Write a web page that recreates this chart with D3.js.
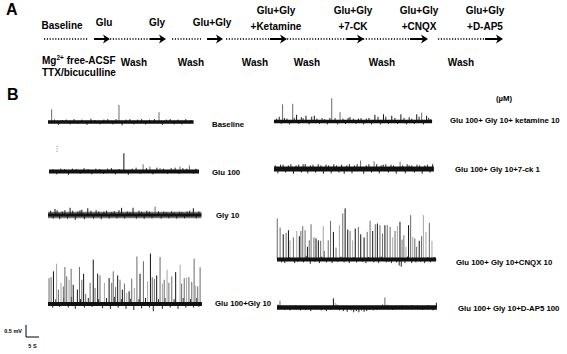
<!DOCTYPE html>
<html>
<head>
<meta charset="utf-8">
<script src="https://cdn.jsdelivr.net/npm/d3@7"></script>
<style>
  body { margin: 0; background: #fff; }
  svg { display: block; font-family: "Liberation Sans", Arial, sans-serif; font-weight: bold; }
</style>
</head>
<body>
<div id="container"></div>
<script>
// ---------- DATA: PROTOCOL (panel A) ----------
const stepTop = ['', '', '', '', 'Glu+Gly', 'Glu+Gly', 'Glu+Gly', 'Glu+Gly'];
const stepBottom = ['Baseline', 'Glu', 'Gly', 'Glu+Gly', '+Ketamine', '+7-CK', '+CNQX', '+D-AP5'];
const washLabels = ['Wash', 'Wash', 'Wash', 'Wash', 'Wash', 'Wash'];

// ---------- DATA: RECORDINGS (panel B) ----------
const traceNames = [
    'Baseline', 'Glu 100', 'Gly 10', 'Glu 100+Gly 10',
    'Glu 100+ Gly 10+ ketamine 10', 'Glu 100+ Gly 10+7-ck 1',
    'Glu 100+ Gly 10+CNQX 10', 'Glu 100+ Gly 10+D-AP5 100'
];
const traceDuration = [56, 57.7, 59, 59.2, 60.8, 61.5, 61.2, 61.5]; // s

// events: [time s, amplitude mV, shade 0 black / 1 grey / 2 light]
const baselineSpikes = [[1.4, 0.53, 1], [27.3, 0.71, 1], [42.7, 0.41, 1]];
const gluSpikes = [[28.8, 0.76, 0], [36.2, 0.3, 1], [38.8, 0.2, 1], [42.7, 0.15, 1], [50.4, 0.2, 1], [54, 0.25, 1]];
const glySpikes = [[2.7, 0.25, 0], [8.5, 0.3, 0], [13, 0.22, 0], [15.3, 0.28, 0], [28.3, 0.3, 0], [32.7, 0.3, 0], [41.2, 0.35, 1], [55.9, 0.28, 0]];
const gluGlySpikes = [
    [0.4, 1.08, 1], [1.2, 1.12, 1], [2.1, 1.36, 0], [3.3, 1.68, 2], [4.0, 0.60, 1], [5.0, 0.88, 2], [5.9, 0.73, 1],
    [6.5, 1.54, 1], [7.2, 1.15, 1], [8.1, 1.01, 2], [8.9, 1.47, 1], [9.7, 0.80, 0], [11.3, 0.60, 0], [12.1, 1.54, 1],
    [13.0, 1.01, 1], [13.7, 1.26, 0], [14.5, 0.42, 1], [16.2, 0.88, 1], [17.4, 1.85, 0], [18.1, 0.67, 1], [19.1, 1.26, 0],
    [20.0, 1.19, 1], [21.7, 0.88, 2], [23.5, 1.08, 0], [24.5, 0.88, 1], [25.1, 1.36, 1], [26.0, 0.71, 1], [26.8, 1.19, 0],
    [27.7, 1.01, 1], [28.6, 0.60, 0], [29.4, 0.85, 1], [30.3, 0.46, 2], [31.2, 0.53, 0], [32.2, 1.05, 1], [33.2, 0.67, 2],
    [34.2, 1.98, 1], [35.4, 1.26, 0], [36.7, 1.78, 1], [38.3, 0.94, 2], [39.4, 2.10, 0], [40.1, 1.12, 1], [40.9, 1.05, 1],
    [41.8, 1.19, 0], [43.1, 1.96, 1], [44.0, 0.85, 2], [44.7, 1.01, 1], [45.8, 1.43, 2], [46.5, 0.88, 1], [47.6, 1.15, 1],
    [49.1, 1.33, 0], [50.8, 1.64, 2], [51.4, 0.85, 1], [52.4, 1.08, 1], [53.3, 1.10, 2], [54.2, 1.12, 1], [55.3, 0.92, 1],
    [56.2, 1.89, 1], [56.8, 0.77, 2], [57.6, 0.73, 1], [58.5, 1.53, 1]
];
const ketSpikes = [
    [3.3, 0.72, 1], [7.2, 0.74, 1], [8.7, 0.28, 0], [12.3, 0.24, 0], [15.5, 0.24, 0], [22.2, 0.97, 1], [25.4, 0.39, 1],
    [29.2, 0.18, 0], [38.8, 0.28, 0], [42.1, 0.3, 0], [45.3, 0.24, 0], [48.8, 0.3, 0], [54.9, 0.3, 0], [56.8, 0.37, 1], [58.7, 0.24, 0]
];
const ckSpikes = [[3.5, 0.18, 0], [12, 0.2, 0], [20, 0.18, 0], [33.3, 0.35, 1], [38.5, 0.32, 1], [42, 0.18, 0], [48.5, 0.3, 1], [52, 0.15, 0]];
const cnqxSpikes = [
    [0.1, 1.71, 1], [1.2, 1.33, 1], [2.4, 1.05, 0], [3.5, 1.11, 1], [4.4, 1.22, 0], [5.0, 0.80, 2], [6.3, 0.92, 1],
    [7.6, 1.19, 2], [8.6, 0.97, 0], [9.2, 1.19, 1], [9.9, 1.39, 1], [10.8, 1.22, 1], [11.7, 0.53, 0], [12.4, 0.80, 1],
    [13.1, 1.47, 1], [14.2, 0.92, 1], [15.0, 0.88, 0], [15.9, 0.80, 0], [16.8, 0.78, 1], [17.8, 1.39, 2], [18.2, 0.36, 1],
    [19.7, 0.80, 1], [20.6, 1.61, 1], [21.7, 1.15, 0], [22.7, 0.50, 1], [24.0, 1.43, 2], [25.3, 1.92, 1], [26.2, 2.13, 0],
    [27.2, 1.25, 0], [28.1, 1.19, 1], [29.1, 0.80, 2], [30.1, 1.29, 0], [31.3, 1.36, 1], [32.2, 1.05, 0], [33.5, 0.92, 0],
    [34.7, 1.15, 1], [35.8, 1.61, 1], [36.8, 1.19, 0], [37.8, 1.47, 1], [38.6, 1.50, 0], [39.6, 1.43, 1], [40.6, 1.08, 1],
    [41.5, 1.43, 0], [42.4, 1.43, 1], [43.5, 1.36, 1], [44.5, 0.92, 2], [45.4, 1.19, 1], [46.3, 1.39, 2], [47.3, 1.57, 0],
    [48.1, 0.83, 1], [48.8, 1.01, 1], [49.6, 0.53, 2], [50.6, 1.43, 0], [51.4, 1.85, 1], [52.2, 0.94, 2], [53.0, 0.88, 1],
    [53.7, 0.53, 1], [54.7, 0.78, 0], [55.6, 0.97, 1], [56.3, 1.85, 2], [57.3, 1.15, 2], [58.6, 1.53, 1], [59.6, 0.78, 2]
];
const dapSpikes = [[1.15, 0.28, 1], [21.7, 0.38, 0], [22.4, 0.2, 2], [23, 0.14, 2], [23.6, 0.1, 2], [40.6, 0.15, 2], [41.5, 0.42, 1], [42.3, 0.12, 2], [43, 0.08, 2]];

// small noise deflections: [time s, amplitude mV]
const baselineNoise = [[2.5, .1], [4, -.12], [5.5, .08], [7, .1], [8.5, -.1], [10, .12], [11.5, -.08], [13, .1], [15, -.12], [16.5, .14], [18, .08], [20, -.1], [21.5, .1], [23, .12], [25, -.1], [26.2, .12], [28.5, -.14], [30, .1], [31.5, .12], [33, -.1], [34.5, .1], [36, .12], [37.5, -.1], [39, .1], [41, .12], [44, -.12], [45.5, .1], [47, .12], [48.5, -.1], [50, .1], [51.5, -.1], [53, .12], [55, .08]];
const gluNoise = [[1.5, .1], [3, -.12], [4.5, .12], [6, .1], [7.5, -.14], [9, .12], [10.5, .1], [12, -.1], [13.5, .14], [15, .1], [16.5, -.12], [18, .12], [19.5, .1], [21, -.1], [22.5, .12], [24, .14], [25.5, -.12], [27, .1], [30.5, -.14], [32, .12], [33.5, .16], [35, -.1], [37.5, .14], [40, -.12], [41.5, .16], [44, .12], [45.5, -.1], [47, .14], [48.5, .16], [50, -.1], [51.5, .14], [53, .12], [55.5, -.1], [56.5, .12]];
const glyNoise = [[1, .18], [2, -.15], [3.5, .2], [4.5, -.18], [5.5, .15], [6.5, .2], [7.5, -.15], [9.5, .18], [10.5, -.2], [11.5, .15], [12.3, .2], [14, -.18], [16.5, .18], [17.5, -.15], [18.5, .2], [19.5, .15], [20.5, -.18], [21.5, .14], [22.5, .18], [23.5, -.15], [24.5, .12], [25.5, .16], [26.5, -.14], [27.3, .2], [29.5, -.15], [30.5, .15], [31.5, .12], [34, -.15], [35, .18], [36, .14], [37, -.16], [38, .18], [39, .15], [40, -.14], [42.5, .15], [43.5, -.15], [44.5, .14], [45.5, .12], [46.5, -.14], [47.5, .15], [48.5, .12], [49.5, -.15], [50.5, .14], [51.5, .12], [52.5, -.14], [53.5, .15], [54.5, .18], [57, -.14], [58, .15]];
const gluGlyNoise = [[1.8, -.15], [3, .2], [4.5, -.12], [6, .25], [7.8, -.15], [9, .3], [10.5, -.2], [12.5, .2], [14, -.15], [15.5, .25], [17, -.12], [19.5, .2], [21, -.18], [22.5, .25], [24, -.2], [25.5, .3], [27, -.15], [28.2, .2], [30, -.2], [31.8, .22], [33, -.25], [35, .2], [36, -.18], [37.5, .25], [39, -.15], [40.5, -.3], [42.5, .2], [44, -.2], [45, .25], [47, -.15], [48.5, .2], [50, -.2], [52, .25], [53, -.15], [54.8, .2], [56, -.15], [57.2, .25], [58, -.12]];
const ketNoise = [[1, .12], [2, .2], [2.8, -.1], [4, .15], [5, .12], [6, -.12], [7.8, .15], [9.5, -.1], [10.5, .18], [11.2, .14], [13.5, -.12], [14.5, .2], [16.5, .12], [17.5, -.1], [18.5, .14], [19.5, .1], [20.5, -.12], [21.5, .15], [23.5, .14], [24.5, -.12], [26.5, .12], [27.5, -.1], [28.5, .15], [30.5, .12], [31.5, -.1], [32.5, .12], [33.5, .14], [34.5, -.12], [35.5, .12], [36.5, .15], [37.5, -.12], [40, .2], [41, -.12], [43, .2], [44, -.1], [46.5, .15], [47.5, -.1], [50, .15], [51, -.12], [52, .18], [53, .12], [54, -.1], [55.8, .2], [57.5, -.12], [59.5, .15], [60.3, .1]];
const ckNoise = [[0.5, .15], [1.5, -.18], [2.5, .18], [4.5, -.15], [5.5, .15], [6.5, .2], [7.5, -.2], [8.5, .15], [9.5, .18], [10.5, -.15], [11.2, .2], [13, -.18], [14, .15], [15, .18], [16, -.15], [17, .2], [18, .15], [19, -.2], [21, .15], [22, -.18], [23, .2], [24, .15], [25, -.15], [26, .18], [27, -.2], [28, .15], [29, .2], [30, -.18], [31, .15], [32, .2], [34.5, -.2], [35.5, .15], [36.5, .2], [37.5, -.15], [39.5, .2], [40.5, -.18], [41.2, .15], [43, .2], [44, -.15], [45, .18], [46, .15], [47, -.2], [49.5, .15], [50.5, -.18], [51.2, .2], [53, .15], [54, -.15], [55, .18], [56, .15], [57, -.2], [58, .15], [59, .18], [60, -.15], [61, .2]];
const cnqxNoise = [[1.8, -.12], [3, -.15], [4.8, .1], [6.8, -.15], [8, -.1], [10.2, -.12], [11.2, .15], [12.8, -.18], [14.6, -.1], [16.3, -.15], [17.2, .12], [19, -.12], [21.2, -.15], [23.4, -.1], [24.6, .12], [25.8, -.12], [27.8, -.15], [29.6, .1], [30.6, -.12], [32.8, -.1], [34.2, -.15], [35.2, .1], [37.2, -.12], [39.1, -.15], [40.1, .12], [42, -.12], [43, -.1], [44, -.15], [46, -.12], [47, -.25], [47.8, -.3], [49.2, -.15], [50.2, .12], [51.8, -.15], [53.4, -.12], [55.2, -.1], [56.8, -.15], [58, .1], [59, -.12], [60.5, .1]];
const dapNoise = [[0.4, .12], [3, -.1], [5, -.12], [7, .08], [9, -.12], [11, -.1], [13, -.15], [15, .08], [17, -.12], [19, -.15], [20.5, -.1], [24, -.12], [25.5, -.15], [27, -.18], [28.5, -.12], [29.5, -.2], [30.5, -.15], [31.5, -.2], [32.5, -.12], [33.5, -.18], [34.5, -.15], [35.5, -.1], [37, -.12], [38.5, -.1], [43, .1], [44.5, -.1], [46, .08], [48, .1], [50, .08], [52, .1], [54, .08], [56, -.1], [58, .1], [60, -.12], [61.3, .2]];

const traceSpikes = [baselineSpikes, gluSpikes, glySpikes, gluGlySpikes, ketSpikes, ckSpikes, cnqxSpikes, dapSpikes];
const traceNoise = [baselineNoise, gluNoise, glyNoise, gluGlyNoise, ketNoise, ckNoise, cnqxNoise, dapNoise];

const scaleBarMv = 0.5;
const scaleBarSec = 5;

// ---------- LAYOUT ----------
const width = 567;
const height = 354;

// panel A schematic positions
const stepX = [62, 104, 157, 212, 276, 353, 419, 485];
const washX = [134, 191, 255, 307, 382, 461];
const dottedRuns = [[44, 88], [110, 150], [172, 201], [226, 270], [287, 347], [363, 410], [438, 485]];
const arrowRuns = [[94, 110], [150, 166], [207, 223], [270, 287], [347, 364], [410, 428], [485, 503]];
const arrowY = 39;

// panel B trace origins (left end, baseline)
const traceLayout = [
    { x: 48, y: 122, band: 3.5, lx: 212, ly: 127 },
    { x: 49, y: 171.5, band: 4, lx: 212, ly: 175 },
    { x: 48, y: 215, band: 3, haze: 6.5, lx: 216, ly: 218 },
    { x: 48, y: 304, band: 4, lx: 215, ly: 306 },
    { x: 274, y: 121.5, band: 3.5, lx: 450, ly: 123 },
    { x: 274, y: 169, band: 5, lx: 455, ly: 172 },
    { x: 277, y: 259.5, band: 4, lx: 456, ly: 265 },
    { x: 277, y: 307.5, band: 4.5, lx: 458, ly: 311 }
];
const shadeColors = ['#111', '#6a6a6a', '#a5a5a5'];

// ---------- SCALES ----------
const t = d3.scaleLinear().domain([0, 5]).range([0, 13]);        // s -> px
const v = d3.scaleLinear().domain([0, 0.5]).range([0, -12]);     // mV -> px

const svg = d3.select('#container').append('svg')
    .attr('width', width)
    .attr('height', height);

// ---------- PANEL A ----------
svg.append('text').attr('x', 6).attr('y', 15).attr('font-size', 16).text('A');
svg.append('text').attr('x', 7).attr('y', 100).attr('font-size', 16).text('B');

const gA = svg.append('g').attr('font-size', 10);

gA.selectAll('.top').data(stepTop).join('text')
    .attr('x', (d, i) => stepX[i]).attr('y', 14)
    .attr('text-anchor', 'middle').text(d => d);

gA.selectAll('.bottom').data(stepBottom).join('text')
    .attr('x', (d, i) => stepX[i])
    .attr('y', (d, i) => i === 0 ? 29 : (stepTop[i] ? 30 : 25.5))
    .attr('text-anchor', 'middle').text(d => d);

gA.selectAll('.dots').data(dottedRuns).join('line')
    .attr('x1', d => d[0]).attr('x2', d => d[1])
    .attr('y1', arrowY).attr('y2', arrowY)
    .attr('stroke', '#000').attr('stroke-width', 1.6)
    .attr('stroke-dasharray', '1.2,1.6');

gA.selectAll('.arrow').data(arrowRuns).join('path')
    .attr('d', d => `M${d[0]},${arrowY}H${d[1] - 3}`)
    .attr('stroke', '#000').attr('stroke-width', 2).attr('fill', 'none');

gA.selectAll('.head').data(arrowRuns).join('path')
    .attr('d', d => `M${d[1]},${arrowY}L${d[1] - 7},${arrowY - 4.5}L${d[1] - 5},${arrowY}L${d[1] - 7},${arrowY + 4.5}Z`)
    .attr('fill', '#000');

gA.selectAll('.wash').data(washLabels).join('text')
    .attr('x', (d, i) => washX[i]).attr('y', 66)
    .attr('text-anchor', 'middle').text(d => d);

const mg = gA.append('text').attr('x', 42).attr('y', 64);
mg.append('tspan').text('Mg');
mg.append('tspan').attr('font-size', 6.5).attr('dy', -4).text('2+');
mg.append('tspan').attr('dy', 4).text(' free-ACSF');
gA.append('text').attr('x', 42).attr('y', 76).text('TTX/bicuculline');

// ---------- PANEL B ----------
traceNames.forEach((name, i) => {
    const L = traceLayout[i];
    const g = svg.append('g').attr('transform', `translate(${L.x},${L.y})`);
    const dur = traceDuration[i];

    if (L.haze) {
        g.append('line')
            .attr('x1', t(0)).attr('x2', t(dur)).attr('y1', v(0)).attr('y2', v(0))
            .attr('stroke', '#777').attr('stroke-width', L.haze);
    }

    g.selectAll('.noise').data(traceNoise[i]).join('line')
        .attr('x1', d => t(d[0])).attr('x2', d => t(d[0]))
        .attr('y1', v(0)).attr('y2', d => v(d[1]))
        .attr('stroke', '#222').attr('stroke-width', 1);

    g.selectAll('.spike').data(traceSpikes[i]).join('line')
        .attr('x1', d => t(d[0])).attr('x2', d => t(d[0]))
        .attr('y1', v(0)).attr('y2', d => v(d[1]))
        .attr('stroke', d => shadeColors[d[2]]).attr('stroke-width', 1);

    g.append('line')
        .attr('x1', t(0)).attr('x2', t(dur)).attr('y1', v(0)).attr('y2', v(0))
        .attr('stroke', '#111').attr('stroke-width', L.band);

    svg.append('text')
        .attr('x', L.lx).attr('y', L.ly)
        .attr('font-size', 7.8).text(name);
});

// artifact mark above Glu 100 trace
svg.append('line')
    .attr('transform', `translate(${traceLayout[1].x},${traceLayout[1].y})`)
    .attr('x1', t(3.1)).attr('x2', t(3.1)).attr('y1', v(0.82)).attr('y2', v(1.11))
    .attr('stroke', '#555').attr('stroke-width', 0.8).attr('stroke-dasharray', '1,1.5');

svg.append('text').attr('x', 496).attr('y', 101).attr('font-size', 7.8).text('(µM)');

// ---------- SCALE BAR ----------
const sb = svg.append('g').attr('transform', 'translate(26,337)');
sb.append('path')
    .attr('d', `M0,${v(scaleBarMv)}V0H${t(scaleBarSec)}`)
    .attr('fill', 'none').attr('stroke', '#000').attr('stroke-width', 1);
sb.append('text').attr('x', -4).attr('y', -4.5).attr('font-size', 5.5)
    .attr('text-anchor', 'end').text(scaleBarMv + ' mV');
sb.append('text').attr('x', t(scaleBarSec) / 2).attr('y', 10.5).attr('font-size', 5.5)
    .attr('text-anchor', 'middle').text(scaleBarSec + ' S');
</script>
</body>
</html>
